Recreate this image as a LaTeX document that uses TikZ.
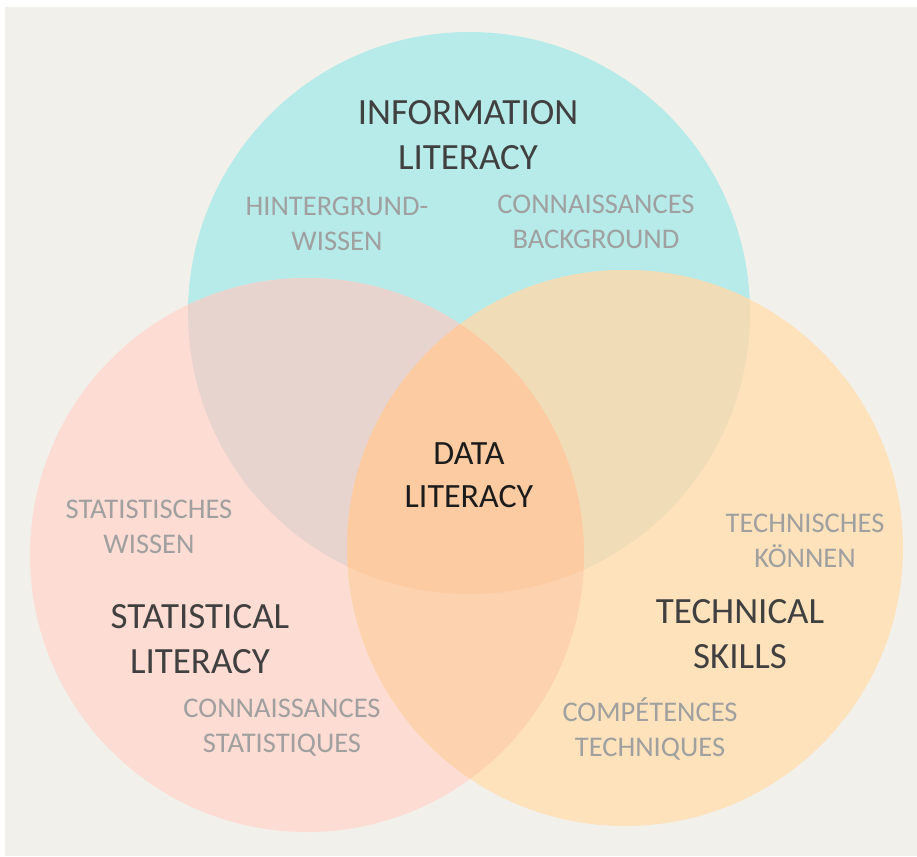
\documentclass[tikz,border=0pt]{standalone}
\usepackage{fontspec}
\setmainfont{Carlito}
\definecolor{bgc}{HTML}{F2F0EB}
\definecolor{cyanc}{HTML}{B6EBE9}
\definecolor{pinkc}{HTML}{FDDCD4}
\definecolor{orc}{HTML}{FDE2BC}
\definecolor{cpc}{HTML}{E8D4CE}
\definecolor{coc}{HTML}{F0DCB6}
\definecolor{poc}{HTML}{FDD2AF}
\definecolor{allc}{HTML}{FDCBA2}
\definecolor{titlec}{HTML}{404040}
\definecolor{datac}{HTML}{1C1C1C}
\definecolor{subc}{HTML}{A0A0A0}
\tikzset{
  title/.style={text=titlec, align=center, font=\fontsize{37}{45}\selectfont, inner sep=0pt},
  datatitle/.style={text=datac, align=center, font=\fontsize{34}{43}\selectfont, inner sep=0pt},
  sub/.style={text=subc, align=center, font=\fontsize{28.5}{35}\selectfont, inner sep=0pt}
}
\begin{document}
\begin{tikzpicture}[x=1pt,y=-1pt]
\useasboundingbox (0,0) rectangle (917,856);
\fill[white] (0,0) rectangle (917,856);
\fill[bgc] (5,7) rectangle (917,856);
\def\circI{(469,313) circle[radius=281pt]}
\def\circL{(307,555) circle[radius=277pt]}
\def\circR{(625,548) circle[radius=278pt]}
\fill[cyanc] \circI;
\fill[pinkc] \circL;
\fill[orc] \circR;
\begin{scope} \clip \circI; \fill[cpc] \circL; \end{scope}
\begin{scope} \clip \circI; \fill[coc] \circR; \end{scope}
\begin{scope} \clip \circL; \fill[poc] \circR; \end{scope}
\begin{scope} \clip \circI; \clip \circL; \fill[allc] \circR; \end{scope}

\node[title] (info) at (468,135) {INFORMATION\\LITERACY};
\node[sub] (hint) at (337,224) {HINTERGRUND-\\WISSEN};
\node[sub] (connb) at (596,222) {CONNAISSANCES\\BACKGROUND};
\node[datatitle] (data) at (469,475) {DATA\\LITERACY};
\node[sub] (statw) at (149,527) {STATISTISCHES\\WISSEN};
\node[title] (stat) at (200,639) {STATISTICAL\\LITERACY};
\node[sub] (conns) at (282,728) {CONNAISSANCES\\STATISTIQUES};
\node[sub] (techk) at (805,541) {TECHNISCHES\\KÖNNEN};
\node[title] (tech) at (740,634) {TECHNICAL\\SKILLS};
\node[sub] (comp) at (650,729) {COMPÉTENCES\\TECHNIQUES};
\end{tikzpicture}
\end{document}
